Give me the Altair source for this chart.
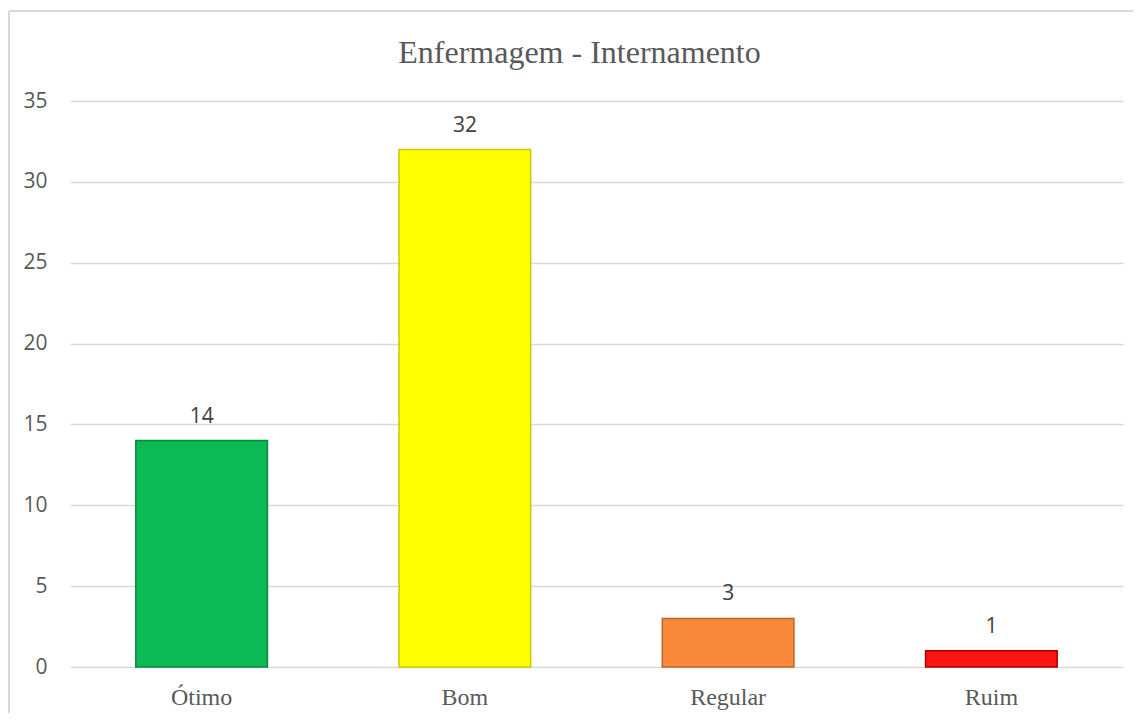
import altair as alt
import pandas as pd

categories = ["Ótimo", "Bom", "Regular", "Ruim"]
values = [14, 32, 3, 1]
fills = ["#0BBA55", "#FFFF00", "#F88A3A", "#FF1414"]
strokes = ["#088A3C", "#C9C900", "#B8662C", "#A80000"]
y_ticks = [0, 5, 10, 15, 20, 25, 30, 35]
title_text = "Enfermagem - Internamento"

df = pd.DataFrame({"cat": categories, "val": values, "fill": fills, "stroke": strokes})

W, H = 1053, 566

base = alt.Chart(df)

x_enc = alt.X(
    "cat:N",
    sort=categories,
    title=None,
    scale=alt.Scale(paddingInner=0.5, paddingOuter=0.25),
    axis=alt.Axis(
        labelAngle=0,
        labelFont="Liberation Serif",
        labelFontSize=24,
        labelColor="#595959",
        labelBaseline="alphabetic",
        labelPadding=37,
        ticks=False,
        domain=False,
        grid=False,
    ),
)

y_enc = alt.Y(
    "val:Q",
    title=None,
    scale=alt.Scale(domain=[0, 35], nice=False),
    axis=alt.Axis(
        values=y_ticks,
        labelFont="Open Sans",
        labelFontSize=21,
        labelColor="#595959",
        labelPadding=23,
        ticks=False,
        domain=False,
        gridColor="#D9D9D9",
        gridWidth=1.5,
    ),
)

bars = base.mark_bar(strokeWidth=1.5).encode(
    x=x_enc,
    y=y_enc,
    fill=alt.Fill("fill:N", scale=None, legend=None),
    stroke=alt.Stroke("stroke:N", scale=None, legend=None),
)

labels = base.mark_text(
    baseline="alphabetic", dy=-18, font="Open Sans", fontSize=21, color="#404040"
).encode(
    x=alt.X("cat:N", sort=categories),
    y="val:Q",
    text="val:Q",
)

frame_data = alt.Data(values=[{"t": title_text}])
left_border = alt.Chart(frame_data).mark_rule(color="#D9D9D9", strokeWidth=2).encode(
    x=alt.value(-61), y=alt.value(-90), y2=alt.value(630)
)
top_border = alt.Chart(frame_data).mark_rule(color="#D9D9D9", strokeWidth=2).encode(
    x=alt.value(-61), x2=alt.value(1070), y=alt.value(-90)
)
title = alt.Chart(frame_data).mark_text(
    font="Liberation Serif", fontSize=32, color="#595959",
    align="center", baseline="alphabetic",
).encode(
    x=alt.value(W / 2 - 17), y=alt.value(-38), text="t:N"
)

chart = (
    alt.layer(left_border, top_border, title, bars, labels)
    .properties(
        width=W,
        height=H,
        padding={"left": 62, "top": 93, "right": 10, "bottom": 46},
        autosize=alt.AutoSizeParams(type="none"),
    )
    .configure_view(stroke=None)
)

chart.save("out.html", embed_options={"renderer": "svg", "actions": False})
